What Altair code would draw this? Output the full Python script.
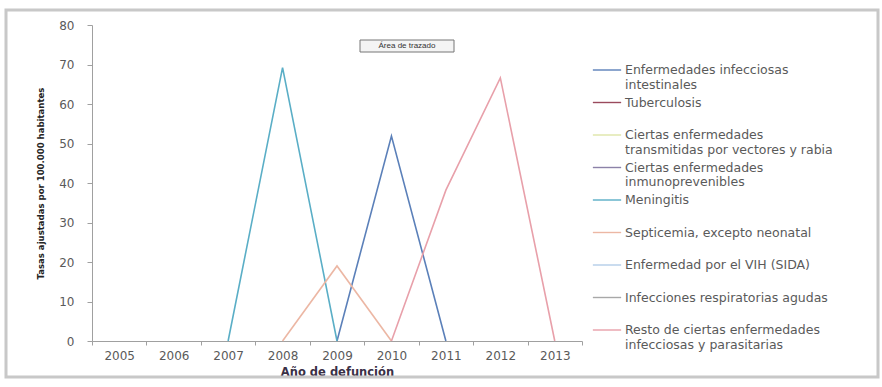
import altair as alt
import pandas as pd

# Causas (orden de la leyenda)
causas = [
    "Enfermedades infecciosas\nintestinales",
    "Tuberculosis",
    "Ciertas enfermedades\ntransmitidas por vectores y rabia",
    "Ciertas enfermedades\ninmunoprevenibles",
    "Meningitis",
    "Septicemia, excepto neonatal",
    "Enfermedad por el VIH (SIDA)",
    "Infecciones respiratorias agudas",
    "Resto de ciertas enfermedades\ninfecciosas y parasitarias",
]
colores = [
    "#5b80b9", "#9a4a5c", "#dfe6a8", "#8c82a8", "#5aaec6",
    "#ecb7a4", "#b4cde8", "#a8a8a8", "#e8a0aa",
]
anios = ["2005", "2006", "2007", "2008", "2009", "2010", "2011", "2012", "2013"]

# Series con valores registrados (tasas por 100.000 habitantes)
intestinales_anios = ["2009", "2010", "2011"]
intestinales_tasas = [0, 51.9, 0]
meningitis_anios = ["2007", "2008", "2009"]
meningitis_tasas = [0, 69.2, 0]
septicemia_anios = ["2008", "2009", "2010"]
septicemia_tasas = [0, 19.0, 0]
resto_anios = ["2010", "2011", "2012", "2013"]
resto_tasas = [0, 38.2, 66.6, 0]

filas = []
for causa, xs, ys in [
    (causas[0], intestinales_anios, intestinales_tasas),
    (causas[4], meningitis_anios, meningitis_tasas),
    (causas[5], septicemia_anios, septicemia_tasas),
    (causas[8], resto_anios, resto_tasas),
]:
    for a, v in zip(xs, ys):
        filas.append({"anio": a, "tasa": v, "causa": causa})
df = pd.DataFrame(filas)

FONT = "DejaVu Sans"
FONT_ESTRECHA = "'DejaVu Sans Condensed', 'Liberation Sans', sans-serif"

lineas = alt.Chart(df).mark_line(strokeWidth=1.6).encode(
    x=alt.X(
        "anio:O",
        bandPosition=0.5,
        scale=alt.Scale(type="band", domain=anios, paddingInner=0, paddingOuter=0),
        axis=alt.Axis(
            title="Año de defunción",
            labelAngle=0,
            tickBand="extent",
            tickSize=4,
            labelPadding=5,
            titlePadding=5,
            titleFont=FONT,
            titleFontSize=11.5,
            titleFontWeight="bold",
            titleColor="#3a3046",
        ),
    ),
    y=alt.Y(
        "tasa:Q",
        scale=alt.Scale(domain=[0, 80], nice=False),
        axis=alt.Axis(
            title="Tasas ajustadas por 100.000 habitantes",
            values=[0, 10, 20, 30, 40, 50, 60, 70, 80],
            tickSize=5,
            labelPadding=13,
            titlePadding=13,
            titleFont=FONT_ESTRECHA,
            titleFontSize=9.5,
            titleFontWeight="bold",
            titleColor="#222222",
        ),
    ),
    color=alt.Color(
        "causa:N",
        scale=alt.Scale(domain=causas, range=colores),
        sort=causas,
        legend=alt.Legend(
            title=None,
            orient="none",
            legendX=507,
            legendY=37,
            # trazo horizontal más ancho que la celda del símbolo
            symbolType="M-2,0L2,0",
            symbolSize=200,
            symbolStrokeWidth=1.4,
            symbolFillColor="transparent",
            labelFont=FONT,
            labelFontSize=12.5,
            labelColor="#5a5a5a",
            labelLimit=400,
            labelExpr="indexof(datum.label, '\\n') < 0 ? [datum.label, ' '] : split(datum.label, '\\n')",
            rowPadding=3.5,
            labelOffset=10,
        ),
    ),
)

# Marco exterior del gráfico
marco = alt.Chart(pd.DataFrame({"k": [0]})).mark_rect(
    fill=None, stroke="#c8c8c8", strokeWidth=3
).encode(
    x=alt.value(-86), x2=alt.value(786), y=alt.value(-15), y2=alt.value(352)
)

# Etiqueta emergente "Área de trazado"
caja = alt.Chart(pd.DataFrame({"k": [0]})).mark_rect(
    fill="#f4f4f4", stroke="#777777", strokeWidth=1
).encode(x=alt.value(268), x2=alt.value(362), y=alt.value(15), y2=alt.value(27))
texto_caja = alt.Chart(pd.DataFrame({"t": ["Área de trazado"]})).mark_text(
    font="Liberation Sans", fontSize=8, color="#333333"
).encode(x=alt.value(315), y=alt.value(21), text="t:N")

chart = (
    alt.layer(marco, caja, texto_caja, lineas)
    .properties(
        width=490,
        height=316,
        autosize=alt.AutoSizeParams(type="none"),
        padding={"left": 92, "top": 25, "right": 300, "bottom": 46},
        background="white",
    )
    .configure_view(stroke=None)
    .configure_axis(
        labelFont=FONT,
        labelFontSize=12,
        labelColor="#5a5a5a",
        domainColor="#a0a0a0",
        tickColor="#a0a0a0",
        grid=False,
    )
)

chart.save("out.html", embed_options={"renderer": "svg", "actions": False})
